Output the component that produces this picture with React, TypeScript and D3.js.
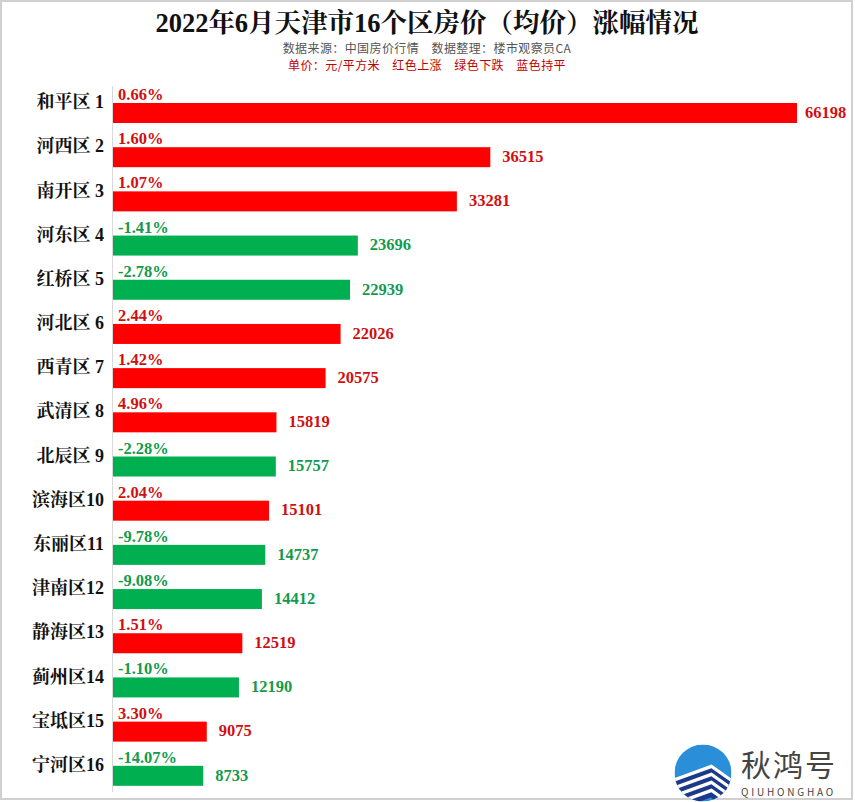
import React from "react";
import * as d3 from "d3";

const districts = ["和平区 1","河西区 2","南开区 3","河东区 4","红桥区 5","河北区 6","西青区 7","武清区 8","北辰区 9","滨海区10","东丽区11","津南区12","静海区13","蓟州区14","宝坻区15","宁河区16"];
const prices = [66198,36515,33281,23696,22939,22026,20575,15819,15757,15101,14737,14412,12519,12190,9075,8733];
const changes = [0.66,1.60,1.07,-1.41,-2.78,2.44,1.42,4.96,-2.28,2.04,-9.78,-9.08,1.51,-1.10,3.30,-14.07];

const W = 855, H = 802;
const serif = "'Times New Roman', 'Liberation Serif', 'Noto Serif CJK SC', serif";
const cjkSerif = "'Liberation Serif', 'Noto Serif CJK SC', 'Noto Sans CJK SC', serif";
const sans = "'Noto Sans CJK SC', 'Noto Sans', sans-serif";

export default function App() {
  const x = d3.scaleLinear().domain([0, 66198]).range([113, 797]);
  const y = d3.scaleBand<string>().domain(districts).range([88, 795]);
  const barOff = 15;
  const barH = 20;
  const fmt = (v: number) => v.toFixed(2) + "%";
  const cx = 703, cy = 773, r = 28.5;
  return (
    <svg width={W} height={H} style={{ position: "absolute", left: 0, top: 0, background: "#fff" }}>
      <rect x={0} y={0} width={W} height={H} fill="#fff" />
      <rect x={1} y={1} width={851} height={798} fill="none" stroke="#d0d0d0" strokeWidth={2} />
      <text x={427} y={32} textAnchor="middle" fontFamily={cjkSerif} fontWeight="bold" fontSize={26.5} fill="#111">
        2022年6月天津市16个区房价（均价）涨幅情况
      </text>
      <text x={427} y={53} textAnchor="middle" fontFamily={sans} fontSize={12} fill="#555" letterSpacing={0.4}>
        数据来源：中国房价行情　数据整理：楼市观察员CA
      </text>
      <text x={427} y={69.5} textAnchor="middle" fontFamily={sans} fontSize={12} fill="#c00000" letterSpacing={0.4}>
        单价：元/平方米　红色上涨　绿色下跌　蓝色持平
      </text>
      <line x1={112.5} x2={112.5} y1={86} y2={792} stroke="#d9d9d9" strokeWidth={1} />
      {districts.map((d, i) => {
        const top = (y(d) as number) + barOff;
        const up = changes[i] > 0;
        const barColor = up ? "#ff0000" : "#00b050";
        const txtColor = up ? "#d01010" : "#139a4e";
        const xe = x(prices[i]);
        const label = String(prices[i]);
        const lx = Math.min(xe + 12, 848 - label.length * 8.6);
        return (
          <g key={d}>
            <text x={104} y={top + 1} textAnchor="end" dominantBaseline="middle" fontFamily={cjkSerif} fontWeight="bold" fontSize={18} fill="#111">
              {d}
            </text>
            <rect x={x(0)} y={top} width={xe - x(0)} height={barH} fill={barColor} />
            <text x={118} y={top - 3} fontFamily={serif} fontWeight="bold" fontSize={16.5} fill={txtColor}>
              {fmt(changes[i])}
            </text>
            <text x={lx} y={top + barH / 2 + 1} dominantBaseline="middle" fontFamily={serif} fontWeight="bold" fontSize={16.5} fill={txtColor}>
              {label}
            </text>
          </g>
        );
      })}
      <defs>
        <clipPath id="logoClip">
          <circle cx={cx} cy={cy} r={r} />
        </clipPath>
      </defs>
      <g clipPath="url(#logoClip)">
        <rect x={cx - r} y={cy - r} width={2 * r} height={2 * r} fill="#2a8fd8" />
        {[0, 1, 2, 3].map((k) => {
          const o = k * 8;
          const pts = [
            [cx - r - 2, cy + 10 + o],
            [cx + 8, cy - 4 + o],
            [cx + r + 2, cy + 12 + o],
          ];
          const line = d3.line()(pts as [number, number][]) as string;
          return (
            <g key={k}>
              <path d={line} fill="none" stroke="#fff" strokeWidth={8} />
              <path d={line} fill="none" stroke="#1d3a8a" strokeWidth={5} transform="translate(0,2)" />
            </g>
          );
        })}
      </g>
      <text x={741} y={776} fontFamily={sans} fontSize={30} fill="#444" letterSpacing={2}>秋鸿号</text>
      <text x={741} y={796} fontFamily={sans} fontSize={10} fill="#444" letterSpacing={2.8}>QIUHONGHAO</text>
    </svg>
  );
}
